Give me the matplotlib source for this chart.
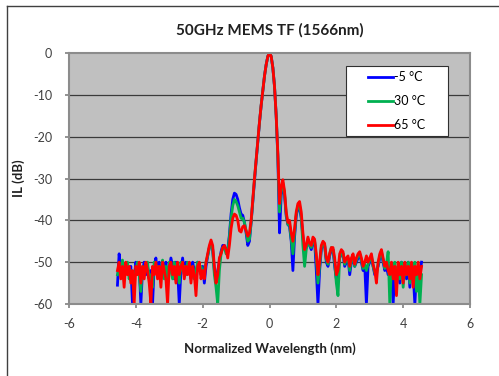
import numpy as np
import matplotlib
matplotlib.use("Agg")
import matplotlib.pyplot as plt
from matplotlib.lines import Line2D
from matplotlib.patches import Rectangle

plt.rcParams['font.family'] = ['Lato', 'DejaVu Sans']

title = "50GHz MEMS TF (1566nm)"
xlabel = "Normalized Wavelength (nm)"
ylabel = "IL (dB)"
series_labels = ["-5 °C", "30 °C", "65 °C"]
series_colors = ["#0000FF", "#00B050", "#FF0000"]
x_start, x_stop = -4.55, 4.55
xticks = [-6, -4, -2, 0, 2, 4, 6]
yticks = [0, -10, -20, -30, -40, -50, -60]

il_m5 = [
    -55.5, -48, -52, -50, -54, -51, -52, -53, -51, -60,
    -54, -50, -52, -51, -60, -52, -50, -53, -51, -54,
    -52, -60, -51, -49, -53, -50, -54, -51, -53, -50,
    -55, -52, -49, -51, -54, -50, -52, -60, -52, -49,
    -53, -50, -52, -51, -54, -50, -52, -55, -50, -51,
    -53, -51, -55, -51, -48.5, -46.5, -45.5, -47, -52, -54,
    -52, -50, -47.5, -46, -46, -47.5, -47, -43.5, -38.5, -35,
    -33.5, -33.8, -35, -37, -38.5, -38.8, -40.5, -43, -46, -45,
    -40.5, -35.5, -30.5, -25.8, -21.2, -16.7, -12.6, -9, -5.5, -2.8,
    -0.8, 0, -0.8, -3.5, -8, -15, -25, -43, -34, -31.5,
    -34, -39, -41, -41.5, -45, -52, -44, -39, -37, -37,
    -39.5, -44, -48, -46.5, -45, -46, -47, -45, -45, -52,
    -60, -52, -47, -45.5, -46, -50, -51, -48.5, -47, -47,
    -51, -54, -53, -49, -48, -48, -51, -50, -49, -53,
    -50, -49, -51, -50, -49, -48, -50, -52, -51, -60,
    -51, -50, -49, -51, -53, -52, -51, -49, -48, -50,
    -52, -51, -53, -52, -51, -60, -52, -54, -51, -55,
    -50, -53, -51, -54, -50, -56, -51, -53, -60, -52,
    -51, -53, -50,
]

il_30 = [
    -53, -51, -52, -49.5, -53, -52, -50, -54, -52, -55,
    -53, -52, -50, -53, -57, -51, -53, -51, -50, -54,
    -53, -56, -50, -52, -51, -53, -52, -49.5, -54, -51,
    -56, -50, -52, -54, -50, -53, -51, -55, -50, -52,
    -51, -53, -50, -52, -53, -51, -54, -52, -50, -52,
    -51, -53, -52, -50, -48.5, -46.5, -45.5, -47, -53, -56,
    -60, -52, -48, -46.5, -46.5, -48, -47.5, -44, -39.5, -36.5,
    -35, -35.5, -36.5, -38, -39.5, -39.5, -40.5, -42.5, -45, -44.5,
    -40.5, -35.3, -30.2, -25.6, -21.1, -16.6, -12.5, -9, -5.5, -2.8,
    -0.8, 0, -0.8, -3.5, -8, -15, -24.5, -38, -33, -31,
    -33.5, -38.5, -41, -41, -44.5, -48, -43, -38.5, -36.5, -36.5,
    -39, -46, -51, -47, -44.5, -46, -46.5, -44.5, -45, -49,
    -55, -51, -46.5, -45.5, -46, -49.5, -50.5, -48, -46.5, -47,
    -50, -55, -58, -49, -47.5, -48, -50.5, -49.5, -49, -52,
    -49.5, -48.5, -51, -49.5, -48.5, -48, -49.5, -51.5, -50.5, -52,
    -50.5, -49.5, -48.5, -51, -52.5, -53, -50.5, -48.5, -47.5, -49.5,
    -51.5, -50.5, -47.5, -60, -51, -53, -50, -55, -51, -54,
    -50, -56, -51, -53, -50, -55, -51, -54, -50, -57,
    -52, -60, -53,
]

il_65 = [
    -52, -50, -54, -51, -56, -50, -53, -51, -55, -52,
    -60, -51, -53, -50, -55, -51, -54, -50, -52, -55,
    -60, -51, -53, -50, -54, -51, -56, -50, -52, -54,
    -60, -51, -50, -53, -51, -55, -50, -53, -51, -50,
    -54, -51, -53, -50, -55, -51, -53, -58, -51, -50,
    -54, -52, -54, -50, -48, -46, -44.7, -46, -51, -55,
    -53, -49, -48, -46.5, -46, -47, -49, -46, -42, -39.5,
    -38.5, -38.8, -40, -42.5, -42.8, -41.5, -41.3, -42.5, -43.8, -43,
    -40, -35, -30, -25.5, -21, -16.5, -12.5, -9, -5.5, -2.8,
    -0.8, 0, -0.8, -3.5, -8, -15, -24, -36, -32, -30.3,
    -33, -38, -40.5, -40, -43, -45, -42, -38, -36, -35.5,
    -38, -43, -47, -46, -44, -45.5, -46, -44, -44.5, -48,
    -53, -50, -46, -45, -45.5, -49, -50, -48, -46.5, -46.5,
    -49, -53, -52, -48, -47, -47.5, -50, -49, -48.5, -51,
    -49, -48, -50.5, -49, -48, -47.5, -49, -51, -50, -48.5,
    -50, -49, -48, -50.5, -52, -55, -50, -48, -47, -49,
    -51, -50, -52, -53, -50, -54, -51, -58, -50, -53,
    -51, -55, -50, -53, -51, -54, -50, -56, -51, -53,
    -50, -54, -51,
]

series = [il_m5, il_30, il_65]

W, H = 499, 376
fig = plt.figure(figsize=(W / 100, H / 100), dpi=100)
fig.patch.set_facecolor("white")

ax_l, ax_r, ax_t, ax_b = 69, 470, 53, 304
ax = fig.add_axes([ax_l / W, 1 - ax_b / H, (ax_r - ax_l) / W, (ax_b - ax_t) / H])
ax.set_facecolor("#C0C0C0")

for vals, lab, col in zip(series, series_labels, series_colors):
    xs = np.linspace(x_start, x_stop, len(vals))
    ax.plot(xs, vals, color=col, lw=2.0, label=lab, solid_joinstyle="round")

ax.set_xlim(-6, 6)
ax.set_ylim(-60, 0)
ax.set_xticks(xticks)
ax.set_yticks(yticks)
ax.set_xticklabels([str(t) for t in xticks])
ax.set_yticklabels([str(t) for t in yticks])
for yv in yticks[1:-1]:
    ax.axhline(yv, color="#3a3a3a", lw=0.9, zorder=0.5)
ax.tick_params(axis="both", labelsize=9, colors="#808080", labelcolor="#404040",
               length=3, width=1.2, direction="out")
ax.tick_params(axis="x", pad=7)
ax.tick_params(axis="y", pad=9)
for s in ax.spines.values():
    s.set_color("#8c8c8c")
    s.set_linewidth(1.5)

ax.set_xlabel(xlabel, fontsize=9.5, fontweight="bold", color="#202020", labelpad=9)
ax.set_ylabel(ylabel, fontsize=9.5, fontweight="bold", color="#202020", labelpad=6)
fig.text(270 / W, 1 - 30 / H, title, ha="center", va="center", fontsize=11,
         fontweight="bold", color="#202020")

# legend box
bx0, by0, bx1, by1 = 345.5, 66, 448, 136.5
box = Rectangle((bx0 / W, 1 - by1 / H), (bx1 - bx0) / W, (by1 - by0) / H,
                transform=fig.transFigure, facecolor="white",
                edgecolor="#303030", lw=0.8, zorder=5, clip_on=False)
ax.add_artist(box)
leg = ax.legend(loc="center", bbox_to_anchor=((bx0 + bx1) / 2 / W, 1 - (by0 + by1) / 2 / H),
                bbox_transform=fig.transFigure, frameon=False, fontsize=9,
                handlelength=2.0, handletextpad=0.1, labelspacing=0.95)
leg.set_zorder(6)

# outer frame lines
fig.add_artist(Line2D([7 / W, 7 / W], [0, 1 - 6 / H], transform=fig.transFigure,
                      color="#404040", lw=1.0))
fig.add_artist(Line2D([7 / W, 1], [1 - 6 / H, 1 - 6 / H], transform=fig.transFigure,
                      color="#404040", lw=1.0))

fig.savefig("out.png", dpi=100)
